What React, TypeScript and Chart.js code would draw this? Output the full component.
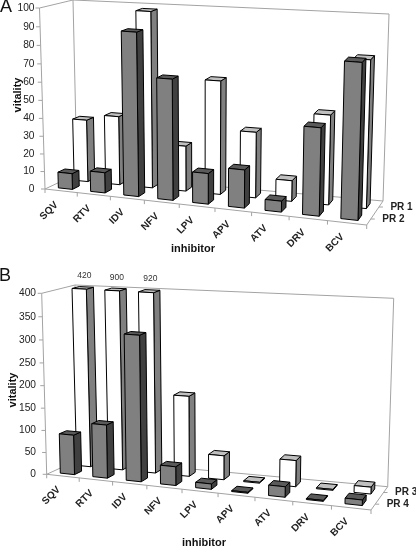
import React, { useEffect, useRef } from "react";
import { Chart, registerables } from "chart.js";

Chart.register(...registerables);

const categories = ["SQV", "RTV", "IDV", "NFV", "LPV", "APV", "ATV", "DRV", "BCV"];
const pr1Values = [35.5, 39, 98, 25.5, 63, 36.5, 11.5, 49, 79.5];
const pr2Values = [9, 11.5, 90, 66.5, 17, 21, 6, 47.5, 83];
const pr3Values = [420, 900, 920, 180, 54, 2, 58, 2, 15];
const pr4Values = [90, 120, 322, 42, 12, 2, 23, 2, 12];

const FONT = '"Liberation Sans", Arial, sans-serif';
type Pt = [number, number];

function bilinear(q: Pt[]) {
  const [a, b, c, d] = q;
  return (u: number, v: number): Pt => {
    const g = 0.89 * u + 0.11 * u * u;
    const fx = a[0] + (b[0] - a[0]) * g, fy = a[1] + (b[1] - a[1]) * g;
    const bx = d[0] + (c[0] - d[0]) * g, by = d[1] + (c[1] - d[1]) * g;
    return [fx + (bx - fx) * v, fy + (by - fy) * v];
  };
}

type Panel = {
  letter: string;
  letterPos: Pt;
  floor: Pt[];
  top: Pt[];
  tickX: number;
  xTitle: Pt;
  yTitle: Pt;
  labelOff: Pt;
};

function depthPlugin(p: Panel) {
  const hf = bilinear(p.floor);
  const ht = bilinear(p.top);
  const k = 0.042;
  const proj = (u: number, v: number, w: number): Pt => {
    const f = hf(u, v), t = ht(u, v);
    const z = w / (1 + k - k * w);
    return [f[0] + (t[0] - f[0]) * z, f[1] + (t[1] - f[1]) * z];
  };
  const poly = (ctx: CanvasRenderingContext2D, pts: Pt[], fill: string) => {
    ctx.beginPath();
    pts.forEach((q, i) => (i ? ctx.lineTo(q[0], q[1]) : ctx.moveTo(q[0], q[1])));
    ctx.closePath();
    ctx.fillStyle = fill;
    ctx.fill();
    ctx.stroke();
  };
  const line = (ctx: CanvasRenderingContext2D, a: Pt, b: Pt) => {
    ctx.beginPath();
    ctx.moveTo(a[0], a[1]);
    ctx.lineTo(b[0], b[1]);
    ctx.stroke();
  };
  return {
    id: "depth" + p.letter,
    beforeDatasetsDraw(chart: any) {
      const ctx: CanvasRenderingContext2D = chart.ctx;
      const xs = chart.scales.x, ys = chart.scales.y;
      const ca = chart.chartArea;
      const U = (x: number) => (x - ca.left) / (ca.right - ca.left);
      const W = (y: number) => Math.min(1, Math.max(0, (ca.bottom - y) / (ca.bottom - ca.top)));
      ctx.save();

      // walls and floor
      ctx.strokeStyle = "#a3a3a3";
      ctx.lineWidth = 1;
      const c = (u: number, v: number, w: number) => proj(u, v, w);
      line(ctx, c(0, 0, 0), c(0, 0, 1));
      line(ctx, c(0, 0, 1), c(0, 1, 1));
      line(ctx, c(0, 1, 1), c(0, 1, 0));
      line(ctx, c(0, 1, 1), c(1, 1, 1));
      line(ctx, c(1, 1, 1), c(1, 1, 0));
      line(ctx, c(0, 0, 0), c(0, 1, 0));
      line(ctx, c(0, 1, 0), c(1, 1, 0));
      line(ctx, c(1, 1, 0), c(1, 0, 0));
      line(ctx, c(0, 0, 0), c(1, 0, 0));

      // value axis ticks
      ctx.fillStyle = "#222";
      ctx.font = `10.2px ${FONT}`;
      ctx.textAlign = "right";
      ctx.textBaseline = "middle";
      ys.ticks.forEach((t: any) => {
        const q = proj(0, 0, W(ys.getPixelForValue(t.value)));
        line(ctx, q, [q[0] - 4, q[1]]);
        ctx.fillText(String(t.value), p.tickX, q[1]);
      });

      // category axis ticks and labels
      const n = chart.data.labels.length;
      for (let i = 0; i <= n; i++) {
        const q = proj(i / n, 0, 0);
        line(ctx, q, [q[0], q[1] + 4]);
      }
      ctx.font = `bold 10px ${FONT}`;
      chart.data.labels.forEach((l: string, i: number) => {
        const q = proj(U(xs.getPixelForValue(i)), 0, 0);
        ctx.save();
        ctx.translate(q[0] + p.labelOff[0], q[1] + p.labelOff[1]);
        ctx.rotate(-Math.PI / 4);
        ctx.textAlign = "right";
        ctx.fillText(l, 0, 0);
        ctx.restore();
      });

      // series (depth) axis
      const rows = chart.data.datasets.length;
      ctx.textAlign = "left";
      chart.data.datasets.forEach((ds: any, d: number) => {
        const v = 1 - (d + 0.5) / rows;
        const q = proj(1, v, 0);
        line(ctx, q, [q[0] + 4, q[1]]);
        ctx.fillText(ds.label, q[0] + 11.5, q[1]);
      });

      // boxes, back row first
      ctx.strokeStyle = "#000";
      chart.data.datasets.forEach((ds: any, d: number) => {
        const mid = 1 - (d + 0.5) / rows;
        const v0 = mid - 0.11, v1 = mid + 0.11;
        chart.getDatasetMeta(d).data.forEach((el: any, i: number) => {
          const u0 = U(el.x - el.width / 2), u1 = U(el.x + el.width / 2);
          const w = W(el.y);
          const side = ds.sideColor, top = ds.topColor;
          poly(ctx, [proj(u1, v0, 0), proj(u1, v1, 0), proj(u1, v1, w), proj(u1, v0, w)], side);
          poly(ctx, [proj(u0, v0, w), proj(u1, v0, w), proj(u1, v1, w), proj(u0, v1, w)], top);
          poly(ctx, [proj(u0, v0, 0), proj(u1, v0, 0), proj(u1, v0, w), proj(u0, v0, w)], el.options.backgroundColor);
          // off-scale values are written above the clipped bar
          if (ds.data[i] > ys.max) {
            const q = proj((u0 + u1) / 2, v1, 1);
            ctx.save();
            ctx.fillStyle = "#333";
            ctx.font = `8.5px ${FONT}`;
            ctx.textAlign = "center";
            ctx.fillText(String(ds.data[i]), q[0] - 2, q[1] - 11);
            ctx.restore();
          }
        });
      });

      // titles
      ctx.fillStyle = "#111";
      ctx.font = `bold 11px ${FONT}`;
      ctx.textAlign = "center";
      ctx.fillText("inhibitor", p.xTitle[0], p.xTitle[1]);
      ctx.save();
      ctx.translate(p.yTitle[0], p.yTitle[1]);
      ctx.rotate(-Math.PI / 2);
      ctx.fillText("vitality", 0, 0);
      ctx.restore();
      ctx.font = `18px ${FONT}`;
      ctx.textAlign = "left";
      ctx.fillText(p.letter, p.letterPos[0], p.letterPos[1]);
      ctx.restore();
      return false;
    },
  };
}

const panelA: Panel = {
  letter: "A",
  letterPos: [0, 7],
  floor: [[45, 189], [366.7, 225], [383, 201], [77, 174]],
  top: [[39.5, 8], [372, 32], [389, 14], [73, 0]],
  tickX: 34.5,
  xTitle: [193, 249],
  yTitle: [18, 95],
  labelOff: [-4.5, 12.5],
};

const panelB: Panel = {
  letter: "B",
  letterPos: [-1, 11],
  floor: [[46.7, 209.3], [371, 245], [387.7, 221.7], [80, 194]],
  top: [[41.7, 28.3], [376.5, 51.7], [393.7, 33.3], [75, 20]],
  tickX: 36,
  xTitle: [204, 277.7],
  yTitle: [12.7, 125],
  labelOff: [-4, 12],
};

function makeConfig(labelBack: string, labelFront: string, back: number[], front: number[], max: number, step: number, panel: Panel): any {
  return {
    type: "bar",
    data: {
      labels: categories,
      datasets: [
        { label: labelBack, data: back, backgroundColor: "#ffffff", sideColor: "#808080", topColor: "#c0c0c0", grouped: false, categoryPercentage: 0.44, barPercentage: 1 },
        { label: labelFront, data: front, backgroundColor: "#808080", sideColor: "#404040", topColor: "#5a5a5a", grouped: false, categoryPercentage: 0.44, barPercentage: 1 },
      ],
    },
    options: {
      responsive: false,
      animation: false,
      layout: { padding: 0 },
      plugins: { legend: { display: false }, tooltip: { enabled: false } },
      scales: {
        x: { display: false },
        y: { display: false, min: 0, max, ticks: { stepSize: step } },
      },
    },
    plugins: [depthPlugin(panel)],
  };
}

export default function App() {
  const a = useRef<HTMLCanvasElement>(null);
  const b = useRef<HTMLCanvasElement>(null);
  useEffect(() => {
    const ca = new Chart(a.current!, makeConfig("PR 1", "PR 2", pr1Values, pr2Values, 100, 10, panelA));
    const cb = new Chart(b.current!, makeConfig("PR 3", "PR 4", pr3Values, pr4Values, 400, 50, panelB));
    return () => {
      ca.destroy();
      cb.destroy();
    };
  }, []);
  return (
    <div style={{ position: "absolute", left: 0, top: 0, width: 416, height: 547, background: "#fff" }}>
      <canvas ref={a} width={416} height={265} style={{ position: "absolute", left: 0, top: 0, width: 416, height: 265 }} />
      <canvas ref={b} width={416} height={282} style={{ position: "absolute", left: 0, top: 265, width: 416, height: 282 }} />
    </div>
  );
}
